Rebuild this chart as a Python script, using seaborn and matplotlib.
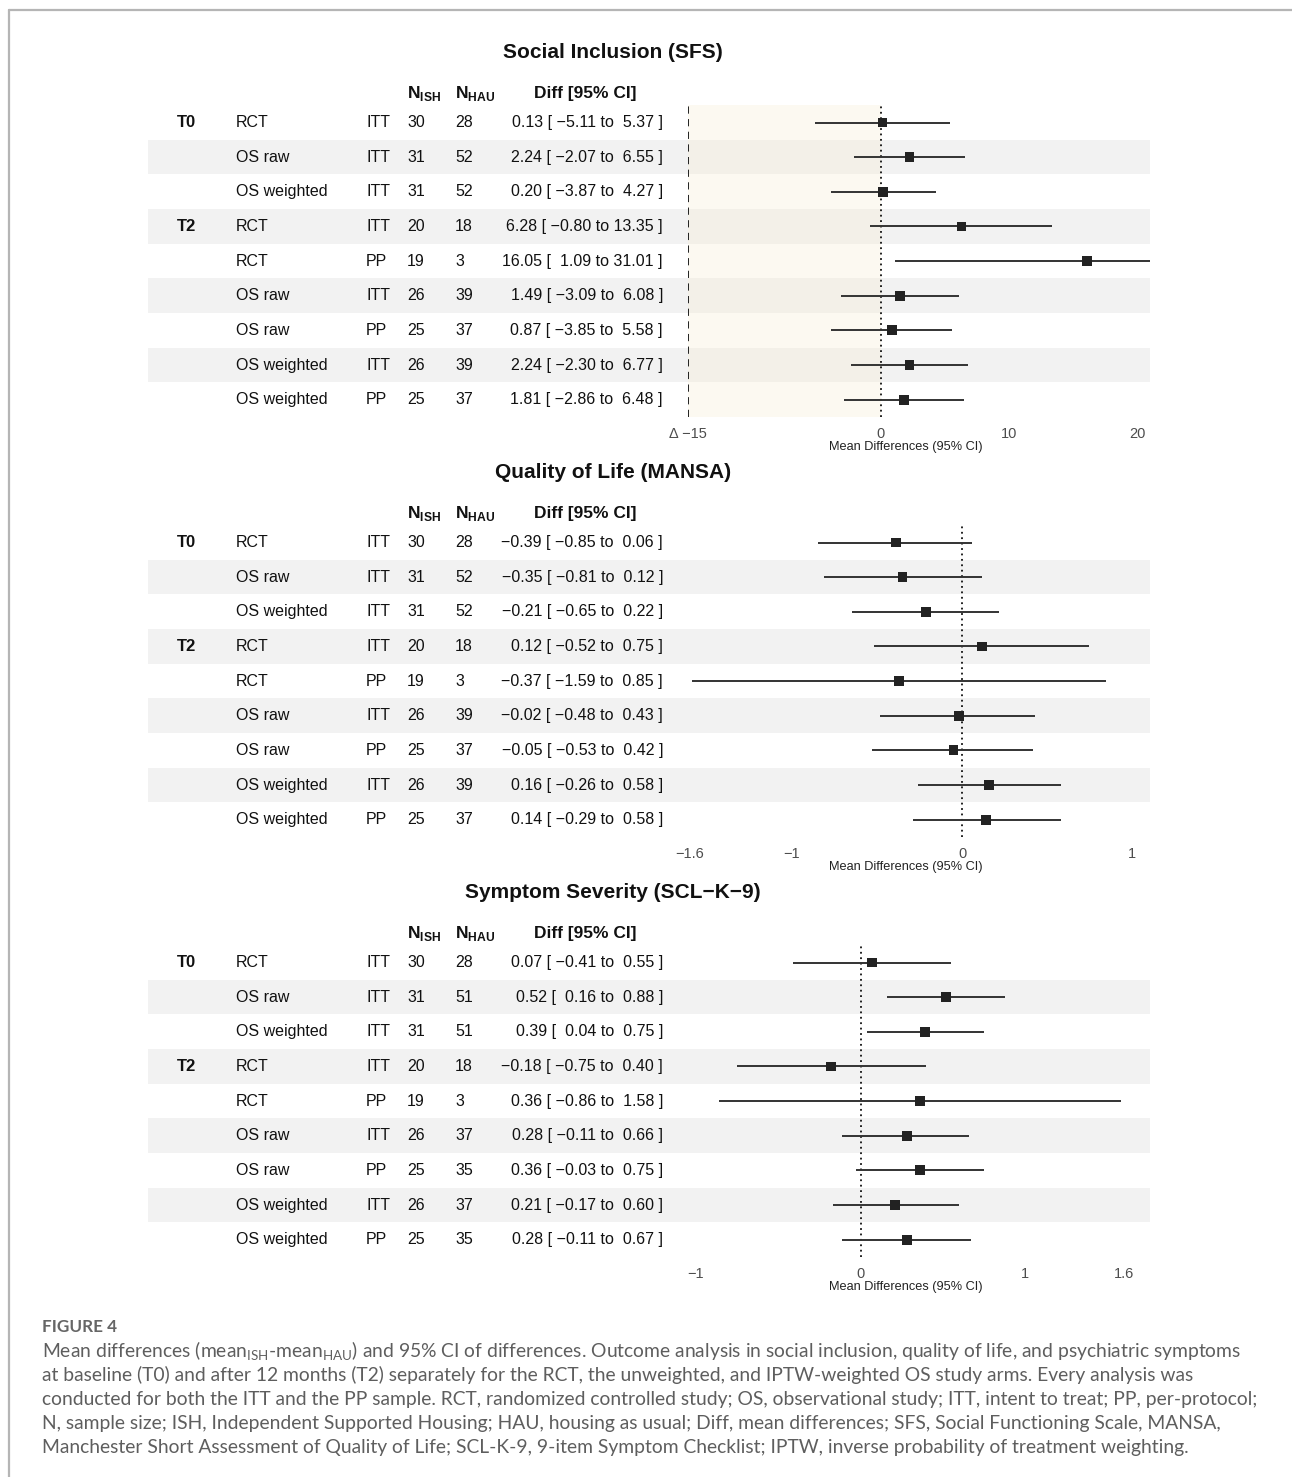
import numpy as np
import pandas as pd
import matplotlib
matplotlib.use("Agg")
import matplotlib.pyplot as plt
import seaborn as sns
from matplotlib.lines import Line2D

# ---------------- data ----------------
timepoints = ["T0", "", "", "T2", "", "", "", "", ""]
designs = ["RCT", "OS raw", "OS weighted", "RCT", "RCT", "OS raw", "OS raw", "OS weighted", "OS weighted"]
samples = ["ITT", "ITT", "ITT", "ITT", "PP", "ITT", "PP", "ITT", "PP"]

sfs_n_ish = [30, 31, 31, 20, 19, 26, 25, 26, 25]
sfs_n_hau = [28, 52, 52, 18, 3, 39, 37, 39, 37]
sfs_est = [0.13, 2.24, 0.20, 6.28, 16.05, 1.49, 0.87, 2.24, 1.81]
sfs_lo = [-5.11, -2.07, -3.87, -0.80, 1.09, -3.09, -3.85, -2.30, -2.86]
sfs_hi = [5.37, 6.55, 4.27, 13.35, 31.01, 6.08, 5.58, 6.77, 6.48]

mansa_n_ish = [30, 31, 31, 20, 19, 26, 25, 26, 25]
mansa_n_hau = [28, 52, 52, 18, 3, 39, 37, 39, 37]
mansa_est = [-0.39, -0.35, -0.21, 0.12, -0.37, -0.02, -0.05, 0.16, 0.14]
mansa_lo = [-0.85, -0.81, -0.65, -0.52, -1.59, -0.48, -0.53, -0.26, -0.29]
mansa_hi = [0.06, 0.12, 0.22, 0.75, 0.85, 0.43, 0.42, 0.58, 0.58]

scl_n_ish = [30, 31, 31, 20, 19, 26, 25, 26, 25]
scl_n_hau = [28, 51, 51, 18, 3, 37, 35, 37, 35]
scl_est = [0.07, 0.52, 0.39, -0.18, 0.36, 0.28, 0.36, 0.21, 0.28]
scl_lo = [-0.41, 0.16, 0.04, -0.75, -0.86, -0.11, -0.03, -0.17, -0.11]
scl_hi = [0.55, 0.88, 0.75, 0.40, 1.58, 0.66, 0.75, 0.60, 0.67]

titles = ["Social Inclusion (SFS)", "Quality of Life (MANSA)", "Symptom Severity (SCL\u2212K\u22129)"]
tick_values = [[-15, 0, 10, 20], [-1.6, -1, 0, 1], [-1, 0, 1, 1.6]]
tick_labels = [["\u0394 \u221215", "0", "10", "20"],
               ["\u22121.6", "\u22121", "0", "1"],
               ["\u22121", "0", "1", "1.6"]]
xlims = [(-15, 20.95), (-1.612, 1.106), (-1.048, 1.758)]
margin_line = -15  # SFS non-inferiority margin

caption_head = "FIGURE 4"
caption_lines = [
    "Mean differences (mean$_{\\mathrm{ISH}}$-mean$_{\\mathrm{HAU}}$) and 95% CI of differences. Outcome analysis in social inclusion, quality of life, and psychiatric symptoms",
    "at baseline (T0) and after 12 months (T2) separately for the RCT, the unweighted, and IPTW-weighted OS study arms. Every analysis was",
    "conducted for both the ITT and the PP sample. RCT, randomized controlled study; OS, observational study; ITT, intent to treat; PP, per-protocol;",
    "N, sample size; ISH, Independent Supported Housing; HAU, housing as usual; Diff, mean differences; SFS, Social Functioning Scale, MANSA,",
    "Manchester Short Assessment of Quality of Life; SCL-K-9, 9-item Symptom Checklist; IPTW, inverse probability of treatment weighting.",
]

panels = [
    dict(n_ish=sfs_n_ish, n_hau=sfs_n_hau, est=sfs_est, lo=sfs_lo, hi=sfs_hi),
    dict(n_ish=mansa_n_ish, n_hau=mansa_n_hau, est=mansa_est, lo=mansa_lo, hi=mansa_hi),
    dict(n_ish=scl_n_ish, n_hau=scl_n_hau, est=scl_est, lo=scl_lo, hi=scl_hi),
]

# ---------------- style ----------------
sns.set_theme(style="white")
plt.rcParams["font.family"] = ["Liberation Sans", "DejaVu Sans"]
plt.rcParams["mathtext.fontset"] = "custom"
plt.rcParams["mathtext.rm"] = "Lato"
plt.rcParams["mathtext.bf"] = "Liberation Sans:bold"

W, H = 1292, 1477
fig = plt.figure(figsize=(W / 100, H / 100), dpi=100)
fig.patch.set_facecolor("white")


def fx(px):
    return px / W


def fy(py):
    return 1 - py / H


def diff_str(e, l, h):
    s = f"{e:.2f} [{l:6.2f} to {h:5.2f} ]"
    return s.replace("-", "\u2212")


BAND = "#F2F2F2"
TXT = "#111111"
FS = 11.5

for p, pan in enumerate(panels):
    dy = 420 * p
    top, bot = 105.2 + dy, 417.0 + dy
    hfrac = (bot - top) / H
    ax_t = fig.add_axes([fx(148), fy(bot), fx(688) - fx(148), hfrac])
    ax_f = fig.add_axes([fx(688), fy(bot), fx(1150) - fx(688), hfrac])
    n = len(pan["est"])
    rows = np.arange(n)
    df = pd.DataFrame({"row": rows, "est": pan["est"], "lo": pan["lo"], "hi": pan["hi"]})

    for ax in (ax_t, ax_f):
        for i in rows:
            if i % 2 == 1:
                ax.axhspan(i - 0.5, i + 0.5, color=BAND, lw=0, zorder=0)
        ax.set_ylim(n - 0.5, -0.5)
        ax.set_yticks([])
        ax.set_facecolor("none")
        sns.despine(ax=ax, left=True, bottom=True)

    # table
    ax_t.set_xlim(148, 688)
    ax_t.set_xticks([])
    for i in rows:
        if timepoints[i]:
            ax_t.text(177, i, timepoints[i], ha="left", va="center", fontsize=12, weight="bold", color=TXT)
        ax_t.text(236, i, designs[i], ha="left", va="center", fontsize=FS, color=TXT)
        ax_t.text(366, i, samples[i], ha="left", va="center", fontsize=FS, color=TXT)
        ax_t.text(407, i, str(pan["n_ish"][i]), ha="left", va="center", fontsize=FS, color=TXT)
        ax_t.text(455, i, str(pan["n_hau"][i]), ha="left", va="center", fontsize=FS, color=TXT)
        ax_t.text(663, i, diff_str(pan["est"][i], pan["lo"][i], pan["hi"][i]),
                  ha="right", va="center", fontsize=FS, color=TXT)
    hy = -0.84
    ax_t.text(407, hy, r"$\mathbf{N}_{\mathbf{ISH}}$", ha="left", va="center", fontsize=12.5, color=TXT, clip_on=False)
    ax_t.text(455, hy, r"$\mathbf{N}_{\mathbf{HAU}}$", ha="left", va="center", fontsize=12.5, color=TXT, clip_on=False)
    ax_t.text(585, hy, "Diff [95% CI]", ha="center", va="center", fontsize=12.5, weight="bold", color=TXT, clip_on=False)

    # forest
    ax_f.set_xlim(*xlims[p])
    if p == 0:
        ax_f.axvspan(xlims[p][0], 0, color="#F8EED2", alpha=0.3, lw=0, zorder=0.5)
        ax_f.axvline(margin_line, color="#111111", ls=(0, (4, 3)), lw=1.3, zorder=2)
    ax_f.axvline(0, color="#111111", ls=(0, (1, 2)), lw=1.3, zorder=2)
    ax_f.hlines(df["row"], df["lo"], df["hi"], color="#333333", lw=1.4, zorder=3)
    sns.scatterplot(data=df, x="est", y="row", marker="s", s=50, color="#222222",
                    edgecolor="none", ax=ax_f, zorder=4, legend=False)
    ax_f.set_ylim(n - 0.5, -0.5)
    ax_f.set_ylabel("")
    ax_f.set_xticks(tick_values[p])
    ax_f.set_xticklabels(tick_labels[p])
    ax_f.tick_params(axis="x", length=0, labelsize=10.5, labelcolor="#4D4D4D", pad=7)
    ax_f.set_xlabel("Mean Differences (95% CI)", fontsize=9.2, color="#222222")
    axh_px = bot - top
    ax_f.xaxis.set_label_coords((906 - 688) / 462, -(441 - 417.0) / axh_px)

    fig.text(fx(613), fy(53 + dy), titles[p], ha="center", va="center",
             fontsize=15, weight="bold", color="#111111")

# ---------------- frame ----------------
fig.add_artist(Line2D([fx(9), 1], [fy(10), fy(10)], color="#B5B5B5", lw=1.6))
fig.add_artist(Line2D([fx(9), fx(9)], [fy(10), 0], color="#B5B5B5", lw=1.6))

# ---------------- caption ----------------
renderer = fig.canvas.get_renderer()
probe = fig.text(0, 0, caption_lines[2], fontsize=12, family="Lato")
w = probe.get_window_extent(renderer).width
probe.remove()
cap_fs = 12 * 1215 / w

probe = fig.text(0, 0, caption_head, fontsize=10, family="Lato", weight="bold")
wh = probe.get_window_extent(renderer).width
probe.remove()
head_fs = 10 * 75 / wh

fig.text(fx(42), fy(1327), caption_head, fontsize=head_fs, family="Lato", weight="bold",
         color="#666666", va="center")
for k, line in enumerate(caption_lines):
    fig.text(fx(42), fy(1351 + 24 * k), line, fontsize=cap_fs, family="Lato",
             color="#5E5E5E", va="center")

fig.savefig("out.png", dpi=100, facecolor="white")
